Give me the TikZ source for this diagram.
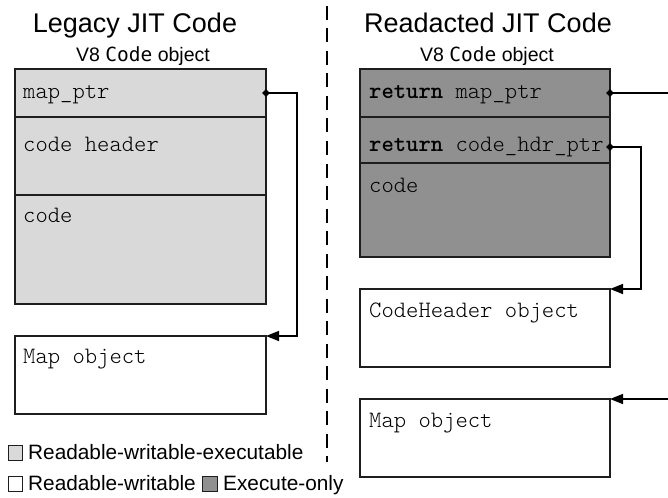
\documentclass[tikz,border=0pt]{standalone}
\usepackage{fontspec}
\setmainfont{Liberation Sans}
\setmonofont{Latin Modern Mono Light}
\newfontfamily\subcodefont{DejaVu Sans Mono}
\usetikzlibrary{arrows.meta,shapes.geometric}
\definecolor{rwx}{HTML}{D9D9D9}
\definecolor{xo}{HTML}{909090}
\definecolor{edge}{HTML}{1E1E1E}
\tikzset{
  cell/.style={draw=edge, line width=1.5pt, inner sep=0pt, outer sep=0pt},
  mono/.style={font=\fontsize{23.5}{25}\selectfont\ttfamily, anchor=base west, inner sep=0pt},
  ttl/.style={font=\fontsize{27}{30}\selectfont, anchor=base, inner sep=0pt},
  subttl/.style={font=\fontsize{19.5}{22}\selectfont, anchor=base, inner sep=0pt},
  legtxt/.style={font=\fontsize{20.8}{22}\selectfont, anchor=base west, inner sep=0pt},
  legsq/.style={draw=edge, line width=0.9pt, minimum width=14.5pt, minimum height=14.5pt, inner sep=0pt},
  link/.style={line width=1.5pt, draw=black},
  tip/.style={-{Triangle[length=13pt,width=10pt]}},
  pdot/.style={diamond, fill=black, inner sep=0pt, minimum size=8pt},
}
\begin{document}
\begin{tikzpicture}[x=1pt,y=-1pt]
\useasboundingbox (0,0) rectangle (668,497);
% titles
\node[ttl] (tl) at (135,33) {Legacy JIT Code};
\node[ttl] (tr) at (488,33) {Readacted JIT Code};
\node[subttl] (sl) at (143,62) {V8 {\subcodefont Code} object};
\node[subttl] (sr) at (487,62) {V8 {\subcodefont Code} object};
% divider
\coordinate (dtop) at (327,6);
\coordinate (dbot) at (327,462);
\draw[line width=1.5pt, dash pattern=on 14pt off 8.5pt] (dtop) -- (dbot);
% left code object
\node[cell, fill=rwx, minimum width=251pt, minimum height=48pt] (l1) at (140.5,93) {};
\node[cell, fill=rwx, minimum width=251pt, minimum height=78pt] (l2) at (140.5,156) {};
\node[cell, fill=rwx, minimum width=251pt, minimum height=109pt] (l3) at (140.5,249.5) {};
\node[cell, fill=white, minimum width=251pt, minimum height=78pt] (lmap) at (140.5,375) {};
\node[mono] (l1t) at (23,99) {map\_ptr};
\node[mono] (l2t) at (23,152) {code header};
\node[mono] (l3t) at (23,222.5) {code};
\node[mono] (lmapt) at (23,363) {Map object};
% right code object
\node[cell, fill=xo, minimum width=250pt, minimum height=48pt] (r1) at (485,93) {};
\node[cell, fill=xo, minimum width=250pt, minimum height=46pt] (r2) at (485,140) {};
\node[cell, fill=xo, minimum width=250pt, minimum height=94pt] (r3) at (485,210) {};
\node[cell, fill=white, minimum width=250pt, minimum height=78pt] (rch) at (485,328) {};
\node[cell, fill=white, minimum width=250pt, minimum height=78pt] (rmap) at (485,438) {};
\node[mono] (r1t) at (369,99) {\textbf{return} map\_ptr};
\node[mono] (r2t) at (369,152) {\textbf{return} code\_hdr\_ptr};
\node[mono] (r3t) at (369,192) {code};
\node[mono] (rcht) at (369,317) {CodeHeader object};
\node[mono] (rmapt) at (369,427) {Map object};
% connectors
\coordinate (hdrdot) at (610,147);
\coordinate (rout) at (670,93);
\coordinate (rin) at (670,399);
\draw[link, tip] (l1.east) -- ++(31,0) |- (lmap.north east);
\draw[link, tip] (hdrdot) -- ++(31,0) |- (rch.north east);
\draw[link] (r1.east) -- (rout);
\draw[link, tip] (rin) -- (rmap.north east);
\node[pdot] (d1) at (l1.east) {};
\node[pdot] (d2) at (hdrdot) {};
\node[pdot] (d3) at (r1.east) {};
% legend
\node[legsq, fill=rwx] (q1) at (15.5,453) {};
\node[legtxt] (q1t) at (28,459) {Readable-writable-executable};
\node[legsq, fill=white] (q2) at (15.5,484) {};
\node[legtxt] (q2t) at (28,490) {Readable-writable};
\node[legsq, fill=xo] (q3) at (210,484) {};
\node[legtxt] (q3t) at (223,490) {Execute-only};
\end{tikzpicture}
\end{document}
